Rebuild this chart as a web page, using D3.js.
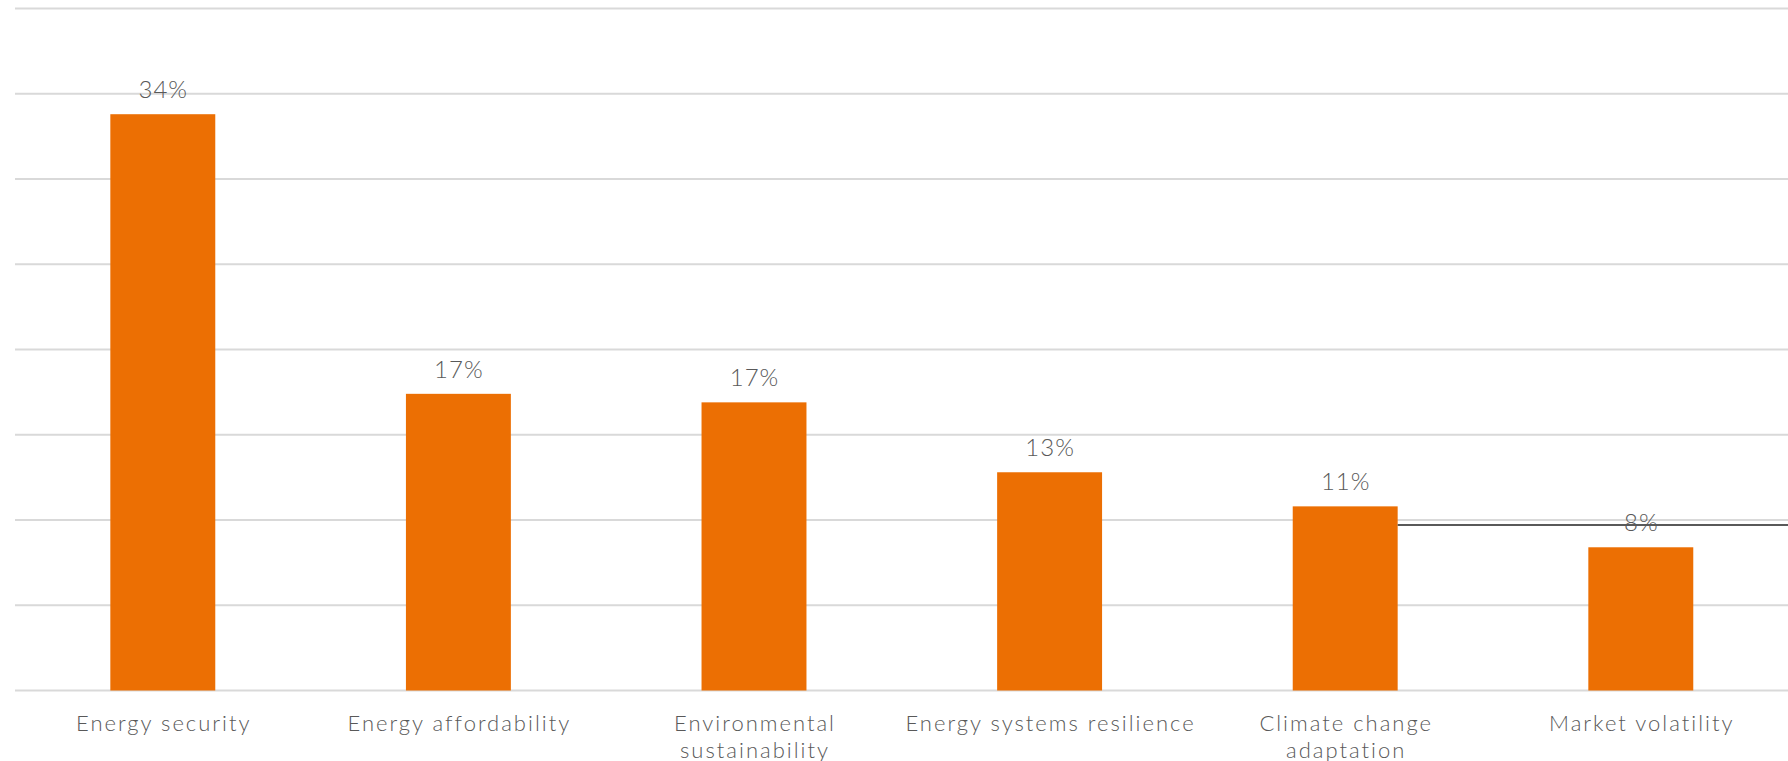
<!DOCTYPE html>
<html>
<head>
<meta charset="utf-8">
<script src="https://cdn.jsdelivr.net/npm/d3@7"></script>
<style>
  html, body { margin: 0; padding: 0; background: #ffffff; }
  svg { display: block; }
  text { font-family: "Century Gothic", "Lato", "DejaVu Sans", sans-serif; fill: #595959; }
</style>
</head>
<body>
<svg id="chart" width="1788" height="761"></svg>
<script>
// ---- data ----
const categories = [
  "Energy security",
  "Energy affordability",
  "Environmental\nsustainability",
  "Energy systems resilience",
  "Climate change\nadaptation",
  "Market volatility"
];
const values = [33.8, 17.4, 16.9, 12.8, 10.8, 8.4];   // percent
const yTicks = [0, 5, 10, 15, 20, 25, 30, 35, 40];
const refLineValue = 9.7;                          // stray dark line
const refLineStart = "Climate change\nadaptation";  // starts at this bar's right edge

// ---- layout ----
const W = 1788, H = 761;
const svg = d3.select("#chart");

const x = d3.scaleBand()
  .domain(categories)
  .range([15, 1788.6])
  .paddingInner(0.645)
  .paddingOuter(0.3225);

const y = d3.scaleLinear()
  .domain([0, 40])
  .range([690.5, 8.5]);

// gridlines
svg.append("g")
  .selectAll("line")
  .data(yTicks)
  .join("line")
  .attr("x1", 15)
  .attr("x2", W)
  .attr("y1", d => y(d))
  .attr("y2", d => y(d))
  .attr("stroke", "#d9d9d9")
  .attr("stroke-width", 2);

// bars
svg.append("g")
  .selectAll("rect")
  .data(values)
  .join("rect")
  .attr("x", (d, i) => x(categories[i]))
  .attr("y", d => y(d))
  .attr("width", x.bandwidth())
  .attr("height", d => y(0) - y(d))
  .attr("fill", "#EC6F03");

// stray dark line
svg.append("line")
  .attr("x1", x(refLineStart) + x.bandwidth())
  .attr("x2", W)
  .attr("y1", y(refLineValue))
  .attr("y2", y(refLineValue))
  .attr("stroke", "#595959")
  .attr("stroke-width", 2);

// value labels
const fmt = d => Math.round(d) + "%";
svg.append("g")
  .selectAll("text")
  .data(values)
  .join("text")
  .attr("x", (d, i) => x(categories[i]) + x.bandwidth() / 2 + 0.5)
  .attr("y", d => y(d) - 16)
  .attr("text-anchor", "middle")
  .attr("font-size", 24)
  .attr("font-weight", 300)
  .attr("letter-spacing", 1)
  .text(fmt);

// category labels
const cat = svg.append("g")
  .selectAll("text")
  .data(categories)
  .join("text")
  .attr("x", d => x(d) + x.bandwidth() / 2)
  .attr("y", 730.5)
  .attr("text-anchor", "middle")
  .attr("font-size", 22)
  .attr("font-weight", 300)
  .attr("letter-spacing", 2);
cat.each(function(d) {
  const t = d3.select(this);
  const cx = x(d) + x.bandwidth() / 2 + 1;
  d.split("\n").forEach((line, i) => {
    t.append("tspan")
      .attr("x", cx)
      .attr("dy", i === 0 ? 0 : 27.5)
      .text(line);
  });
});
</script>
</body>
</html>
